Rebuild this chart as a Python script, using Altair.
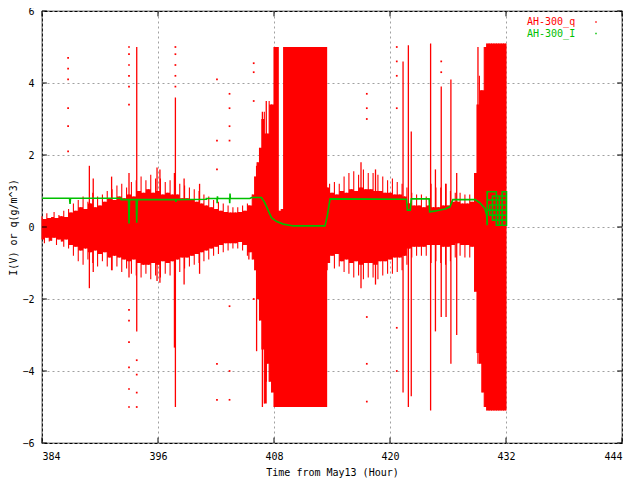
import altair as alt
import pandas as pd

# ---- data (quarter-hour envelope of AH-300_q) ----
BODY_T = [
    384.0, 384.25, 384.5, 384.75, 385.0, 385.25, 385.5, 385.75,
    386.0, 386.25, 386.5, 386.75, 387.0, 387.25, 387.5, 387.75,
    388.0, 388.25, 388.5, 388.75, 389.0, 389.25, 389.5, 389.75,
    390.0, 390.25, 390.5, 390.75, 391.0, 391.25, 391.5, 391.75,
    392.0, 392.25, 392.5, 392.75, 393.0, 393.25, 393.5, 393.75,
    394.0, 394.25, 394.5, 394.75, 395.0, 395.25, 395.5, 395.75,
    396.0, 396.25, 396.5, 396.75, 397.0, 397.25, 397.5, 397.75,
    398.0, 398.25, 398.5, 398.75, 399.0, 399.25, 399.5, 399.75,
    400.0, 400.25, 400.5, 400.75, 401.0, 401.25, 401.5, 401.75,
    402.0, 402.25, 402.5, 402.75, 403.0, 403.25, 403.5, 403.75,
    404.0, 404.25, 404.5, 404.75, 405.0, 405.25, 405.5, 405.75,
    406.0, 406.25, 406.5, 406.75, 407.0, 407.25, 407.5, 407.75,
    408.0, 408.25, 408.5, 408.75, 409.0, 409.25, 409.5, 409.75,
    410.0, 410.25, 410.5, 410.75, 411.0, 411.25, 411.5, 411.75,
    412.0, 412.25, 412.5, 412.75, 413.0, 413.25, 413.5, 413.75,
    414.0, 414.25, 414.5, 414.75, 415.0, 415.25, 415.5, 415.75,
    416.0, 416.25, 416.5, 416.75, 417.0, 417.25, 417.5, 417.75,
    418.0, 418.25, 418.5, 418.75, 419.0, 419.25, 419.5, 419.75,
    420.0, 420.25, 420.5, 420.75, 421.0, 421.25, 421.5, 421.75,
    422.0, 422.25, 422.5, 422.75, 423.0, 423.25, 423.5, 423.75,
    424.0, 424.25, 424.5, 424.75, 425.0, 425.25, 425.5, 425.75,
    426.0, 426.25, 426.5, 426.75, 427.0, 427.25, 427.5, 427.75,
    428.0, 428.25, 428.5, 428.75, 429.0, 429.25, 429.5, 429.75,
    430.0, 430.25, 430.5, 430.75, 431.0, 431.25, 431.5, 431.75,
    432.0]
BODY_HI = [
    0.30, 0.22, 0.38, 0.25, 0.28, 0.42, 0.25, 0.33,
    0.30, 0.45, 0.28, 0.50, 0.40, 0.65, 0.45, 0.75,
    0.55, 0.85, 0.50, 0.70, 0.65, 0.95, 0.55, 0.85,
    0.60, 0.90, 0.70, 1.00, 0.80, 1.05, 0.75, 1.15,
    0.85, 1.20, 0.80, 1.10, 0.90, 1.25, 0.85, 1.30,
    1.00, 1.40, 0.95, 1.30, 1.05, 1.45, 0.95, 1.35,
    1.00, 1.35, 0.90, 1.25, 0.95, 1.30, 0.90, 1.20,
    0.90, 1.20, 0.80, 1.15, 0.80, 1.10, 0.75, 1.05,
    0.70, 1.00, 0.65, 0.90, 0.60, 0.85, 0.55, 0.75,
    0.50, 0.70, 0.45, 0.65, 0.42, 0.60, 0.40, 0.55,
    0.40, 0.55, 0.42, 0.60, 0.45, 0.65, 0.60, 0.90,
    1.40, 1.80, 2.20, 3.00, 3.20, 2.60, 3.50, 3.40,
    5.00, 5.00, 0.45, 0.50, 5.00, 5.00, 5.00, 5.00,
    5.00, 5.00, 5.00, 5.00, 5.00, 5.00, 5.00, 5.00,
    5.00, 5.00, 5.00, 5.00, 5.00, 5.00, 1.10, 1.20,
    0.95, 1.25, 0.90, 1.20, 1.00, 1.40, 0.95, 1.50,
    1.05, 1.55, 1.00, 1.45, 1.10, 1.60, 1.05, 1.50,
    1.05, 1.50, 1.00, 1.45, 1.00, 1.40, 0.95, 1.30,
    0.95, 1.35, 0.90, 1.25, 0.90, 1.20, 0.85, 1.10,
    0.65, 0.95, 0.60, 0.90, 0.60, 0.90, 0.55, 0.85,
    0.60, 1.20, 0.55, 1.10, 0.55, 1.10, 0.60, 1.20,
    0.60, 1.00, 0.70, 0.95, 0.70, 0.95, 0.65, 0.90,
    0.65, 0.90, 0.70, 1.50, 3.40, 4.20, 3.80, 5.00,
    5.10, 5.10, 5.10, 5.10, 5.10, 5.10, 5.10, 5.10,
    5.10]
BODY_LO = [
    -0.35, -0.45, -0.30, -0.40, -0.38, -0.30, -0.50, -0.35,
    -0.40, -0.55, -0.35, -0.60, -0.50, -0.80, -0.55, -0.95,
    -0.65, -1.05, -0.60, -0.90, -0.70, -1.00, -0.65, -1.10,
    -0.75, -0.95, -0.70, -1.10, -0.85, -1.20, -0.80, -1.10,
    -0.85, -1.25, -0.90, -1.15, -0.95, -1.30, -0.90, -1.35,
    -1.00, -1.40, -1.05, -1.30, -1.05, -1.45, -1.00, -1.35,
    -1.05, -1.40, -0.95, -1.30, -1.00, -1.35, -0.95, -1.25,
    -0.90, -1.25, -0.85, -1.15, -0.85, -1.10, -0.80, -1.05,
    -0.75, -1.00, -0.70, -0.95, -0.65, -0.90, -0.60, -0.80,
    -0.55, -0.75, -0.50, -0.70, -0.45, -0.65, -0.45, -0.60,
    -0.45, -0.60, -0.42, -0.65, -0.50, -0.80, -0.70, -0.90,
    -1.20, -2.00, -2.60, -3.40, -4.90, -3.80, -4.30, -4.60,
    -5.00, -5.00, -5.00, -5.00, -5.00, -5.00, -5.00, -5.00,
    -5.00, -5.00, -5.00, -5.00, -5.00, -5.00, -5.00, -5.00,
    -5.00, -5.00, -5.00, -5.00, -5.00, -5.00, -1.20, -1.00,
    -0.80, -1.15, -0.75, -1.10, -0.95, -1.25, -0.90, -1.30,
    -1.00, -1.40, -0.95, -1.35, -1.05, -1.45, -1.00, -1.40,
    -1.00, -1.40, -1.05, -1.45, -0.95, -1.35, -0.95, -1.30,
    -0.90, -1.30, -0.85, -1.25, -0.85, -1.20, -0.80, -1.05,
    -0.60, -0.85, -0.55, -0.80, -0.55, -0.80, -0.55, -0.80,
    -0.50, -1.00, -0.50, -0.95, -0.50, -1.00, -0.55, -1.05,
    -0.55, -0.95, -0.50, -0.85, -0.45, -0.80, -0.50, -0.85,
    -0.50, -0.85, -0.55, -1.80, -3.50, -3.80, -4.60, -5.00,
    -5.10, -5.10, -5.10, -5.10, -5.10, -5.10, -5.10, -5.10,
    -5.10]

# isolated spikes of AH-300_q
SPIKE_T = [388.9, 389.3, 391.2, 393.0, 393.8, 395.9, 396.2, 397.7, 397.8,
           398.7, 400.3, 405.4, 406.2, 406.8, 407.2, 417.0, 418.5, 421.35,
           421.9, 422.2, 424.2, 424.7, 425.3, 425.8, 426.3, 426.9, 429.1]
SPIKE_LO = [-1.70, -1.25, -1.20, -1.40, -2.90, -1.50, -1.55, -3.35, -5.00,
            -1.60, -1.30, -0.90, -3.45, -5.00, -4.30, -1.70, -1.60, -4.60,
            -5.00, -4.70, -5.10, -2.90, -2.50, -2.50, -3.80, -3.00, -3.80]
SPIKE_HI = [1.70, 1.35, 1.40, 1.50, 5.00, 1.65, 1.60, 1.50, 3.60,
            1.35, 1.20, 0.60, 1.70, 3.20, 3.50, 1.80, 1.60, 4.60,
            5.05, 2.65, 5.10, 1.60, 3.90, 1.20, 4.10, 1.50, 5.00]

# stray single samples of AH-300_q
DOT_T = [386.7, 386.7, 386.7, 386.7, 386.7, 386.7,
         393.0, 393.0, 393.0, 393.0, 393.0, 393.0, 393.0, 393.0, 393.0, 393.0, 393.0, 393.0,
         393.8, 393.8, 393.8, 393.8,
         397.8, 397.8, 397.8, 397.8, 397.8,
         402.1, 402.1, 402.1, 402.1, 402.1,
         403.4, 403.4, 403.4, 403.4, 403.4, 403.4, 403.4,
         405.9, 405.9, 405.9, 405.9,
         417.6, 417.6, 417.6, 417.6, 417.6, 417.6,
         420.7, 420.7, 420.7, 420.7, 420.7, 420.7, 425.3, 425.3]
DOT_V = [4.70, 4.40, 4.10, 3.30, 2.80, 2.10,
         5.00, 4.80, 4.50, 4.20, 3.90, 3.40, -2.30, -2.60, -3.20, -3.90, -4.50, -5.00,
         -3.70, -4.10, -4.60, -5.00,
         5.00, 4.80, 4.50, 4.20, 3.90,
         4.10, 2.40, 1.60, -3.80, -4.80,
         3.70, 3.30, 2.80, 2.40, -2.20, -4.00, -4.80,
         4.55, 4.30, 3.50, -2.00,
         3.70, 3.30, 3.00, -2.50, -3.80, -4.85,
         5.00, 4.60, 4.20, 3.30, -2.80, -4.00, 4.60, 4.30]

# AH-300_I samples, in recorded order
CURR_T = [384.0, 386.85, 386.9, 386.95, 392.2, 392.2, 392.95, 393.0, 393.05, 393.75,
          393.8, 393.85, 397.8, 397.85, 397.9, 401.0, 401.0, 402.1, 402.12, 402.15,
          402.18, 403.4, 403.42, 403.45, 403.48, 405.5, 405.7, 406.7, 407.0, 407.24,
          407.5, 407.76, 408.28, 408.97, 410.0, 413.27, 413.5, 413.8, 421.7, 421.8,
          422.1, 422.2, 424.05, 424.1, 424.6, 425.3, 425.7, 426.2, 426.5, 428.8,
          429.3, 429.8, 430.0, 430.05, 430.05, 431.0, 431.0, 431.6, 431.6, 432.05,
          432.05, 430.3, 430.3, 432.05, 432.05, 430.6, 430.6, 432.05, 432.05, 430.05,
          430.05, 432.05, 432.05, 431.3, 431.3]
CURR_V = [0.80, 0.80, 0.64, 0.80, 0.80, 0.76, 0.76, 0.10, 0.76, 0.76,
          0.12, 0.76, 0.76, 0.70, 0.76, 0.77, 0.79, 0.79, 0.66, 0.85,
          0.79, 0.79, 0.66, 0.93, 0.79, 0.79, 0.82, 0.82, 0.70, 0.56,
          0.40, 0.25, 0.15, 0.08, 0.03, 0.03, 0.29, 0.78, 0.77, 0.47,
          0.47, 0.78, 0.78, 0.42, 0.44, 0.48, 0.50, 0.56, 0.76, 0.76,
          0.67, 0.52, 0.33, 0.05, 0.98, 0.98, 0.05, 0.05, 0.98, 0.98,
          0.61, 0.61, 0.33, 0.33, 0.19, 0.19, 0.86, 0.86, 0.47, 0.47,
          0.75, 0.75, 0.05, 0.05, 0.86]

XTICKS = [384, 396, 408, 420, 432, 444]
YTICKS = [-6, -4, -2, 0, 2, 4, 6]
SERIES = ["AH-300_q", "AH-300_I"]
COLORS = ["#ff0000", "#00c000"]

FONT = "DejaVu Sans Mono"
W, H = 580, 432
XDOM, YDOM = [384, 444], [-6, 6]
SAT = 4.9  # clipping level of the q channel

# dense core of each quarter hour: the lesser excursion of it and its neighbour,
# except where the channel is saturated
n = len(BODY_T)
core_hi, core_lo = [], []
for i in range(n):
    j = min(i + 1, n - 1)
    h, l = BODY_HI[i], BODY_LO[i]
    core_hi.append(h if h >= SAT else min(h, BODY_HI[j]))
    core_lo.append(l if l <= -SAT else max(l, BODY_LO[j]))

body = pd.DataFrame({"t": BODY_T, "hi": BODY_HI, "lo": BODY_LO, "chi": core_hi, "clo": core_lo})
spikes = pd.DataFrame({"t": SPIKE_T, "lo": SPIKE_LO, "hi": SPIKE_HI})
dots = pd.DataFrame({"t": DOT_T, "v": DOT_V})
curr = pd.DataFrame({"t": CURR_T, "v": CURR_V, "i": list(range(len(CURR_T)))})

xscale = alt.Scale(domain=XDOM, nice=False, zero=False)
yscale = alt.Scale(domain=YDOM, nice=False, zero=False)
xaxis = alt.Axis(values=XTICKS, title="Time from May13 (Hour)", grid=True)
yaxis = alt.Axis(values=YTICKS, title="I(V) or q(g/m^3)", grid=True)


def X(f):
    return alt.X(f, type="quantitative", scale=xscale, axis=xaxis)


def Y(f):
    return alt.Y(f, type="quantitative", scale=yscale, axis=yaxis)


core = alt.Chart(body).mark_area(interpolate="step-after", color=COLORS[0], opacity=1).encode(
    x=X("t"), y=Y("chi"), y2="clo")
hairs = alt.Chart(body).mark_rule(color=COLORS[0], strokeWidth=1.1).encode(
    x=X("t"), y=Y("lo"), y2="hi")

rules = alt.Chart(spikes).mark_rule(color=COLORS[0], strokeWidth=1.3).encode(
    x=X("t"), y=Y("lo"), y2="hi")

pts = alt.Chart(dots).mark_square(color=COLORS[0], size=3, opacity=1).encode(
    x=X("t"), y=Y("v"))

line = alt.Chart(curr).mark_line(color=COLORS[1], strokeWidth=1.6).encode(
    x=X("t"), y=Y("v"), order="i:Q")

# inward (mirrored) tick marks, gnuplot style
tx, ty0, ty1 = [], [], []
for v in XTICKS:
    tx += [v, v]
    ty0 += [YDOM[0], YDOM[1] - 0.15]
    ty1 += [YDOM[0] + 0.15, YDOM[1]]
xt = pd.DataFrame({"t": tx, "a": ty0, "b": ty1})
yv, yx0, yx1 = [], [], []
for v in YTICKS:
    yv += [v, v]
    yx0 += [XDOM[0], XDOM[1] - 0.5]
    yx1 += [XDOM[0] + 0.5, XDOM[1]]
yt = pd.DataFrame({"v": yv, "a": yx0, "b": yx1})
xticks = alt.Chart(xt).mark_rule(color="black", strokeWidth=1).encode(x=X("t"), y=Y("a"), y2="b")
yticks = alt.Chart(yt).mark_rule(color="black", strokeWidth=1).encode(x=X("a"), x2="b", y=Y("v"))

# key (gnuplot style: coloured label followed by a sample dot)
leg_layers = []
for name, col, ypix in zip(SERIES, COLORS, [11, 22.5]):
    d = pd.DataFrame({"name": [name]})
    leg_layers.append(alt.Chart(d).mark_text(
        align="left", baseline="middle", font=FONT, fontSize=10, color=col).encode(
        x=alt.value(485), y=alt.value(ypix), text="name:N"))
    leg_layers.append(alt.Chart(d).mark_square(size=2, opacity=1, color=col).encode(
        x=alt.value(554), y=alt.value(ypix)))

chart = alt.layer(core, hairs, rules, pts, line, xticks, yticks, *leg_layers).properties(
    width=W, height=H,
    autosize=alt.AutoSizeParams(type="none"),
    padding={"left": 34, "top": 3, "right": 10, "bottom": 36},
).configure_view(stroke="black", strokeWidth=1.2).configure_axis(
    labelFont=FONT, labelFontSize=10, labelColor="black",
    titleFont=FONT, titleFontSize=10, titleFontWeight="normal", titleColor="black",
    tickSize=0, domain=False, labelPadding=8,
    gridColor="#a0a0a0", gridDash=[2, 3], gridWidth=1, gridOpacity=1,
).configure_axisX(titlePadding=6).configure_axisY(titlePadding=3)

chart.save("out.html", embed_options={"renderer": "svg", "actions": False})
